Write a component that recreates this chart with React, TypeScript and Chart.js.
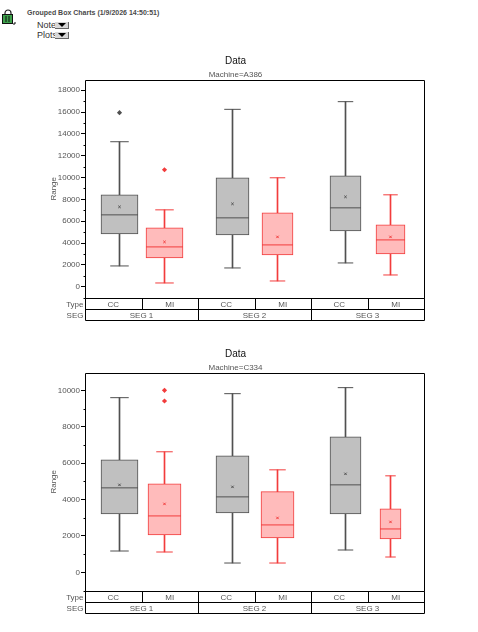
import { useEffect, useRef } from 'react';
import Chart from 'chart.js/auto';

Chart.defaults.font.family = '"Liberation Sans", Arial, sans-serif';

const typeLabels = ['CC', 'MI', 'CC', 'MI', 'CC', 'MI'];
const segLabels = ['SEG 1', 'SEG 2', 'SEG 3'];

// every list below runs CC, MI, CC, MI, CC, MI
const a386Max = [13285, 7040, 16254, 9979, 16958, 8418];
const a386Q3 = [8418, 5387, 9979, 6765, 10163, 5663];
const a386Median = [6581, 3643, 6306, 3826, 7224, 4285];
const a386Q1 = [4836, 2633, 4745, 2908, 5112, 3000];
const a386Min = [1898, 337, 1714, 520, 2173, 1071];
const a386Mean = [7316, 4102, 7591, 4561, 8234, 4561];
const a386Outliers = [[15948], [10714], [], [], [], []];
const a386Ticks = [0, 2000, 4000, 6000, 8000, 10000, 12000, 14000, 16000, 18000];

const c334Max = [9597, 6624, 9817, 5633, 10147, 5303];
const c334Q3 = [6183, 4862, 6404, 4440, 7450, 3486];
const c334Median = [4642, 3101, 4147, 2606, 4807, 2385];
const c334Q1 = [3211, 2055, 3266, 1890, 3211, 1835];
const c334Min = [1174, 1119, 514, 514, 1229, 844];
const c334Mean = [4807, 3761, 4697, 2991, 5413, 2771];
const c334Outliers = [[], [10000, 9413], [], [], [], []];
const c334Ticks = [0, 2000, 4000, 6000, 8000, 10000];

const boxSlots = [0.6106, 1.4071, 2.6106, 3.4071, 4.6106, 5.4071];
const GREY = '#505050';
const RED = '#f23c3c';
const GREY_FILL = '#c0c0c0';
const RED_FILL = '#ffbbbb';
const TEXT = '#555555';

const lineOf = (i: number) => (i % 2 ? RED : GREY);
const fillOf = (i: number) => (i % 2 ? RED_FILL : GREY_FILL);

type BoxData = {
    subtitle: string;
    max: number[];
    q3: number[];
    median: number[];
    q1: number[];
    min: number[];
    mean: number[];
    outliers: number[][];
    ticks: number[];
    widths: number[];
    yMin: number;
    yMax: number;
    top: number;
};

// frame, minor ticks and the Type / SEG rows under the plot
const framePlugin = {
    id: 'frame',
    afterDraw(chart: any) {
        const { ctx, chartArea: a, scales } = chart;
        const l = Math.round(a.left) + 0.5;
        const r = Math.round(a.right) + 0.5;
        const t = Math.round(a.top) + 0.5;
        const b = Math.round(a.bottom) + 0.5;
        const rowH = 11;
        ctx.save();
        ctx.strokeStyle = '#000';
        ctx.lineWidth = 1;
        ctx.beginPath();
        ctx.rect(l, t, r - l, b - t);
        ctx.rect(l, b, r - l, rowH * 2);
        ctx.moveTo(l, b + rowH);
        ctx.lineTo(r, b + rowH);
        typeLabels.forEach((_, i) => {
            if (i === 0) return;
            const x = Math.round(scales.x.getPixelForValue(i)) + 0.5;
            ctx.moveTo(x, b);
            ctx.lineTo(x, b + (i % 2 ? rowH : rowH * 2));
        });
        for (let v = Math.ceil(scales.y.min / 1000) * 1000; v <= scales.y.max; v += 1000) {
            if (v % 2000 === 0) continue;
            const y = Math.round(scales.y.getPixelForValue(v)) + 0.5;
            ctx.moveTo(l - 2, y);
            ctx.lineTo(l, y);
        }
        ctx.stroke();

        ctx.fillStyle = TEXT;
        ctx.font = '8px "Liberation Sans"';
        ctx.textBaseline = 'middle';
        ctx.textAlign = 'right';
        ctx.fillText('Type', l - 2, b + rowH / 2 + 0.5);
        ctx.fillText('SEG', l - 2, b + rowH * 1.5 + 0.5);
        ctx.textAlign = 'center';
        typeLabels.forEach((label, i) => {
            ctx.fillText(label, scales.x.getPixelForValue(i + 0.5), b + rowH / 2 + 0.5);
        });
        segLabels.forEach((label, i) => {
            ctx.fillText(label, scales.x.getPixelForValue(i * 2 + 1), b + rowH * 1.5 + 0.5);
        });
        ctx.restore();
    },
};

const BoxChart = ({ data }: { data: BoxData }) => {
    const chartRef = useRef<HTMLCanvasElement | null>(null);

    useEffect(() => {
        if (!chartRef.current) return;
        const { max, q3, median, q1, min, mean, outliers, widths } = data;

        const boxes = boxSlots.map((x, i) => ({
            type: 'bar' as const,
            data: [{ x, y: [q1[i], q3[i]] }],
            barThickness: widths[i],
            grouped: false,
            borderWidth: 1,
            borderSkipped: false,
            borderColor: lineOf(i),
            backgroundColor: fillOf(i),
            order: 2,
        }));
        const whiskers = {
            type: 'bar' as const,
            data: boxSlots.map((x, i) => ({ x, y: [min[i], max[i]] })),
            barThickness: 1,
            grouped: false,
            backgroundColor: boxSlots.map((_, i) => lineOf(i)),
            order: 3,
        };
        const markLine = (values: number[], radius: (i: number) => number) => ({
            type: 'scatter' as const,
            data: boxSlots.map((x, i) => ({ x, y: values[i] })),
            pointStyle: 'line',
            pointRadius: boxSlots.map((_, i) => radius(i)),
            pointBorderWidth: 1,
            pointBorderColor: boxSlots.map((_, i) => lineOf(i)),
            order: 1,
        });
        const means = {
            type: 'scatter' as const,
            data: boxSlots.map((x, i) => ({ x, y: mean[i] })),
            pointStyle: 'crossRot',
            pointRadius: 1.7,
            pointBorderWidth: 1,
            pointBorderColor: boxSlots.map((_, i) => lineOf(i)),
            order: 0,
        };
        const outlierPoints = boxSlots.flatMap((x, i) => outliers[i].map((y) => ({ x, y, i })));
        const outs = {
            type: 'scatter' as const,
            data: outlierPoints.map(({ x, y }) => ({ x, y })),
            pointStyle: 'rectRot',
            pointRadius: 2.6,
            pointBorderWidth: 0,
            pointBackgroundColor: outlierPoints.map((p) => lineOf(p.i)),
            order: 0,
        };

        const chart = new Chart(chartRef.current, {
            type: 'bar',
            data: {
                datasets: [
                    whiskers,
                    ...boxes,
                    markLine(median, (i) => widths[i] / 2),
                    markLine(max, (i) => widths[i] / 4),
                    markLine(min, (i) => widths[i] / 4),
                    means,
                    outs,
                ] as any,
            },
            options: {
                responsive: false,
                animation: false,
                // the wide 'line' points would otherwise eat into the right edge
                layout: { autoPadding: false, padding: { left: 47, right: 1, bottom: 23, top: 0 } },
                plugins: {
                    legend: { display: false },
                    tooltip: { enabled: false },
                    title: {
                        display: true,
                        text: 'Data',
                        color: '#111',
                        font: { size: 10, weight: 'normal' },
                        padding: { top: 2, bottom: 3 },
                    },
                    subtitle: {
                        display: true,
                        text: 'Machine=' + data.subtitle,
                        color: TEXT,
                        font: { size: 8 },
                        padding: { top: 0, bottom: 0 },
                    },
                },
                scales: {
                    x: { type: 'linear', display: false, min: 0, max: 6, offset: false },
                    y: {
                        min: data.yMin,
                        max: data.yMax,
                        afterBuildTicks: (scale: any) => {
                            scale.ticks = data.ticks.map((value) => ({ value }));
                        },
                        afterFit: (scale: any) => {
                            scale.width = 38;
                        },
                        border: { display: false },
                        grid: { drawOnChartArea: false, tickLength: 4, color: '#000', tickColor: '#000' },
                        ticks: {
                            color: TEXT,
                            padding: 1,
                            font: { size: 8 },
                            callback: (v: any) => String(v),
                        },
                        title: {
                            display: true,
                            text: 'Range',
                            color: TEXT,
                            font: { size: 8 },
                            padding: { top: 2, bottom: 2 },
                        },
                    },
                },
            } as any,
            plugins: [framePlugin],
        });

        return () => chart.destroy();
    }, [data]);

    return (
        <canvas
            ref={chartRef}
            width={425}
            height={268}
            style={{ position: 'absolute', left: 0, top: data.top, width: 425, height: 268 }}
        />
    );
};

const a386: BoxData = {
    subtitle: 'A386',
    max: a386Max,
    q3: a386Q3,
    median: a386Median,
    q1: a386Q1,
    min: a386Min,
    mean: a386Mean,
    outliers: a386Outliers,
    ticks: a386Ticks,
    widths: [37, 37, 33, 31, 31, 29],
    yMin: -1040,
    yMax: 18980,
    top: 53,
};

const c334: BoxData = {
    subtitle: 'C334',
    max: c334Max,
    q3: c334Q3,
    median: c334Median,
    q1: c334Q1,
    min: c334Min,
    mean: c334Mean,
    outliers: c334Outliers,
    ticks: c334Ticks,
    widths: [37, 33, 33, 33, 31, 21],
    yMin: -1023,
    yMax: 10974,
    top: 346,
};

const DropButton = ({ top }: { top: number }) => (
    <div
        style={{
            position: 'absolute',
            left: 55,
            top,
            width: 13,
            height: 6,
            background: '#d8d8d8',
            borderRight: '1px solid #666',
            borderBottom: '1px solid #666',
        }}
    >
        <div
            style={{
                margin: '1px auto 0',
                width: 0,
                height: 0,
                borderLeft: '4px solid transparent',
                borderRight: '4px solid transparent',
                borderTop: '4px solid #000',
            }}
        />
    </div>
);

const labelStyle = {
    position: 'absolute',
    left: 37,
    fontSize: 9,
    lineHeight: '10px',
    color: '#333',
    fontFamily: '"Liberation Sans", Arial, sans-serif',
} as const;

export default function App() {
    return (
        <div style={{ position: 'absolute', left: 0, top: 0, width: 478, height: 632, background: '#fff' }}>
            <svg style={{ position: 'absolute', left: 1, top: 9 }} width={15} height={16}>
                <path d="M4 6V4a3 3 0 0 1 6 0v2" fill="none" stroke="#222" strokeWidth={1.2} />
                <rect x={1.5} y={5.5} width={10} height={9} fill="#3fa34d" stroke="#111" />
                <path d="M5 7v6M8 7v6" stroke="#111" />
                <path d="M12 15h2v-2" fill="none" stroke="#111" />
            </svg>
            <div
                style={{
                    position: 'absolute',
                    left: 27,
                    top: 8,
                    fontSize: 7,
                    lineHeight: '9px',
                    fontWeight: 'bold',
                    color: '#4a4a4a',
                    whiteSpace: 'nowrap',
                    fontFamily: '"Liberation Sans", Arial, sans-serif',
                }}
            >
                Grouped Box Charts (1/9/2026 14:50:51)
            </div>
            <div style={{ ...labelStyle, top: 20 }}>Note</div>
            <DropButton top={22} />
            <div style={{ ...labelStyle, top: 30 }}>Plots</div>
            <DropButton top={32} />
            <BoxChart data={a386} />
            <BoxChart data={c334} />
        </div>
    );
}
